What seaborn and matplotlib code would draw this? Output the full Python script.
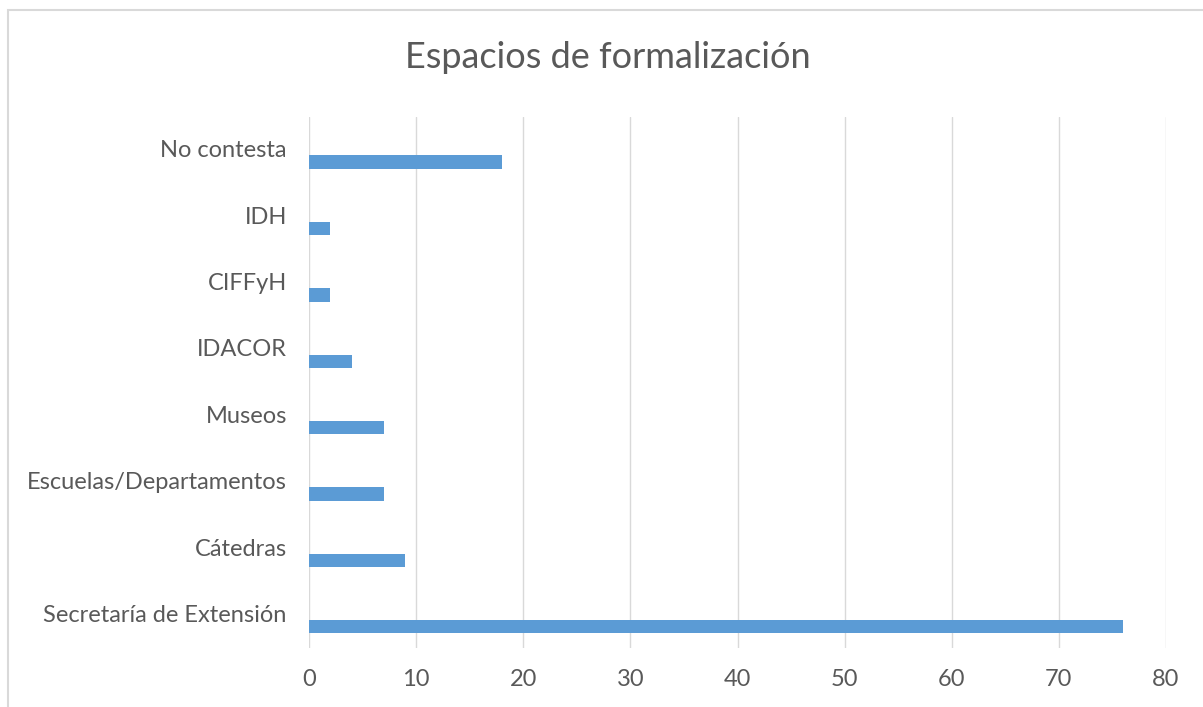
import numpy as np
import pandas as pd
import matplotlib
matplotlib.use("Agg")
import matplotlib.pyplot as plt
import seaborn as sns
from matplotlib.patches import Rectangle

categories = ["No contesta", "IDH", "CIFFyH", "IDACOR", "Museos",
              "Escuelas/Departamentos", "Cátedras", "Secretaría de Extensión"]
values = [18, 2, 2, 4, 7, 7, 9, 76]
xticks = [0, 10, 20, 30, 40, 50, 60, 70, 80]
title = "Espacios de formalización"

sns.set_theme(style="white")
plt.rcParams["font.family"] = ["Lato", "DejaVu Sans"]

TEXT = "#595959"
GRID = "#d9d9d9"
BAR = "#5b9bd5"

W, H = 1203, 707
fig = plt.figure(figsize=(W / 100, H / 100), dpi=100)
fig.patch.set_facecolor("white")

# outer chart border (top and left visible)
fig.add_artist(Rectangle((8 / W, -0.1), 1.2, 1.1 - 10 / H, transform=fig.transFigure,
                         fill=False, edgecolor=GRID, linewidth=1.5))

ax = fig.add_axes([309 / W, 59 / H, 857 / W, 531 / H])
df = pd.DataFrame({"cat": categories, "val": values})
sns.barplot(data=df, x="val", y="cat", orient="h", color=BAR, saturation=1,
            width=0.2, ax=ax, linewidth=0)

n = len(categories)
ax.set_xlim(0, 80)
ax.set_ylim(n - 1 + 0.32, -0.68)
ax.set_yticks(np.arange(n) - 0.2, categories)
ax.set_xticks(xticks, [str(t) for t in xticks])
ax.set_xlabel("")
ax.set_ylabel("")
ax.grid(axis="x", color=GRID, linewidth=1.0)
ax.grid(axis="y", visible=False)
ax.set_axisbelow(True)
for s in ax.spines.values():
    s.set_visible(False)
ax.tick_params(axis="y", length=0, pad=16, labelsize=17, labelcolor=TEXT)
ax.tick_params(axis="x", length=0, pad=15, labelsize=17, labelcolor=TEXT)

fig.text(608 / W, 1 - 58 / H, title, ha="center", va="center",
         fontsize=26, color=TEXT)

fig.savefig("out.png", dpi=100)
